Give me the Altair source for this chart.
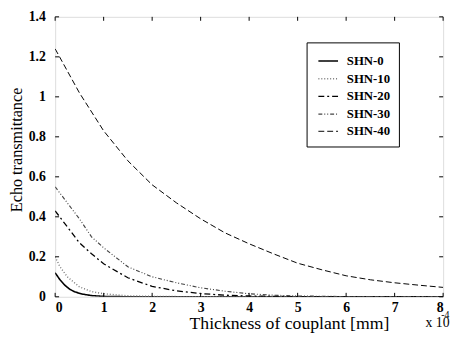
import altair as alt
import pandas as pd

series_names = ["SHN-0", "SHN-10", "SHN-20", "SHN-30", "SHN-40"]

shn0_x = [0, 0.1, 0.2, 0.3, 0.4, 0.55, 0.75, 1.0, 1.5, 8]
shn0_y = [0.12, 0.085, 0.058, 0.038, 0.025, 0.014, 0.006, 0.002, 0.0, 0.0]

shn10_x = [0, 0.1, 0.25, 0.5, 0.75, 1.0, 1.5, 2.0, 3.0, 8]
shn10_y = [0.2, 0.15, 0.1, 0.05, 0.026, 0.015, 0.005, 0.002, 0.0, 0.0]

shn20_x = [0, 0.25, 0.5, 0.75, 1.0, 1.5, 2.0, 2.5, 3.0, 3.5, 4.0, 5.0, 8]
shn20_y = [0.43, 0.35, 0.27, 0.215, 0.165, 0.095, 0.052, 0.03, 0.016, 0.008, 0.004, 0.001, 0.0]

shn30_x = [0, 0.25, 0.5, 0.75, 1.0, 1.5, 2.0, 2.5, 3.0, 3.5, 4.0, 4.5, 5.0, 6.0, 8]
shn30_y = [0.55, 0.47, 0.39, 0.3, 0.245, 0.15, 0.1, 0.07, 0.045, 0.028, 0.015, 0.008, 0.004, 0.001, 0.0]

shn40_x = [0, 0.5, 1.0, 1.5, 2.0, 2.5, 3.0, 3.5, 4.0, 4.5, 5.0, 5.5, 6.0, 6.5, 7.0, 7.5, 8.0]
shn40_y = [1.24, 1.02, 0.83, 0.68, 0.56, 0.47, 0.39, 0.32, 0.265, 0.215, 0.168, 0.135, 0.105, 0.085, 0.07, 0.058, 0.047]

x_ticks = [0, 1, 2, 3, 4, 5, 6, 7, 8]
y_ticks = [0, 0.2, 0.4, 0.6, 0.8, 1.0, 1.2, 1.4]

rows = []
for name, xs, ys in zip(series_names,
                        [shn0_x, shn10_x, shn20_x, shn30_x, shn40_x],
                        [shn0_y, shn10_y, shn20_y, shn30_y, shn40_y]):
    for i, (a, b) in enumerate(zip(xs, ys)):
        rows.append({"series": name, "t": a, "v": b, "order": i})
df = pd.DataFrame(rows)

W, H = 395, 285
FONT = "Liberation Serif"

xscale = alt.Scale(domain=[0, 8], nice=False)
yscale = alt.Scale(domain=[0, 1.4], nice=False)

legend = alt.Legend(
    title=None, orient="none", legendX=256, legendY=26,
    symbolType="stroke", symbolSize=400, symbolOffset=3,
    labelFont=FONT, labelFontSize=13,
    labelFontWeight="bold", labelColor="black", strokeColor="black",
    fillColor="white", padding=8, rowPadding=-5, labelOffset=8,
    labelExpr="datum.label + '    '",
)

lines = alt.Chart(df).mark_line(clip=True).encode(
    x=alt.X("t:Q", scale=xscale, axis=alt.Axis(
        values=x_ticks, ticks=False, domain=False, grid=False, format="~g",
        labelFont=FONT, labelFontSize=14, labelFontWeight="bold", labelColor="black",
        labelPadding=4, title="Thickness of couplant [mm]", titleFont=FONT,
        titleFontSize=18, titleFontWeight="normal", titleColor="black",
        titleX=238, titleY=27, titleBaseline="middle")),
    y=alt.Y("v:Q", scale=yscale, axis=alt.Axis(
        values=y_ticks, ticks=False, domain=False, grid=False, format="~g",
        labelFont=FONT, labelFontSize=14, labelFontWeight="bold", labelColor="black",
        labelPadding=10, title="Echo transmittance", titleFont=FONT,
        titleFontSize=16.5, titleFontWeight="normal", titleColor="black",
        titleX=-39, titleY=135, titleBaseline="middle", titleAlign="center", titleAngle=-90)),
    color=alt.Color("series:N", scale=alt.Scale(
        domain=series_names, range=["black", "#777777", "black", "#444444", "black"]), legend=legend),
    strokeDash=alt.StrokeDash("series:N", scale=alt.Scale(
        domain=series_names, range=[[1, 0], [1, 2], [6, 3, 2, 3], [4, 2, 1, 2, 1, 2], [6, 3]]), legend=legend),
    strokeWidth=alt.StrokeWidth("series:N", scale=alt.Scale(
        domain=series_names, range=[1.6, 1, 1.6, 1, 1.6]), legend=legend),
    order="order:Q",
)

yt = pd.DataFrame({"v": y_ticks})
xt = pd.DataFrame({"t": x_ticks})
tl = alt.Chart(yt).mark_rule(color="black", strokeWidth=1).encode(y="v:Q", x=alt.value(0), x2=alt.value(4))
tr = alt.Chart(yt).mark_rule(color="black", strokeWidth=1).encode(y="v:Q", x=alt.value(W - 4), x2=alt.value(W))
tb = alt.Chart(xt).mark_rule(color="black", strokeWidth=1).encode(x="t:Q", y=alt.value(H - 4), y2=alt.value(H))
tt = alt.Chart(xt).mark_rule(color="black", strokeWidth=1).encode(x="t:Q", y=alt.value(0), y2=alt.value(4))

exp_base = alt.Chart(pd.DataFrame({"s": ["x 10"]})).mark_text(
    font=FONT, fontSize=14, align="left", baseline="middle", color="black").encode(
    text="s:N", x=alt.value(377), y=alt.value(312))
exp_sup = alt.Chart(pd.DataFrame({"s": ["-4"]})).mark_text(
    font=FONT, fontSize=10, align="left", baseline="middle", color="black").encode(
    text="s:N", x=alt.value(393), y=alt.value(304))

chart = alt.layer(lines, tl, tr, tb, tt, exp_base, exp_sup).properties(
    width=W, height=H,
    autosize=alt.AutoSizeParams(type="none"),
    padding={"left": 48, "top": 6, "right": 7, "bottom": 42},
).configure_view(stroke="black", strokeWidth=1.8).configure(background="white")

chart.save("out.html", embed_options={"renderer": "svg", "actions": False})
